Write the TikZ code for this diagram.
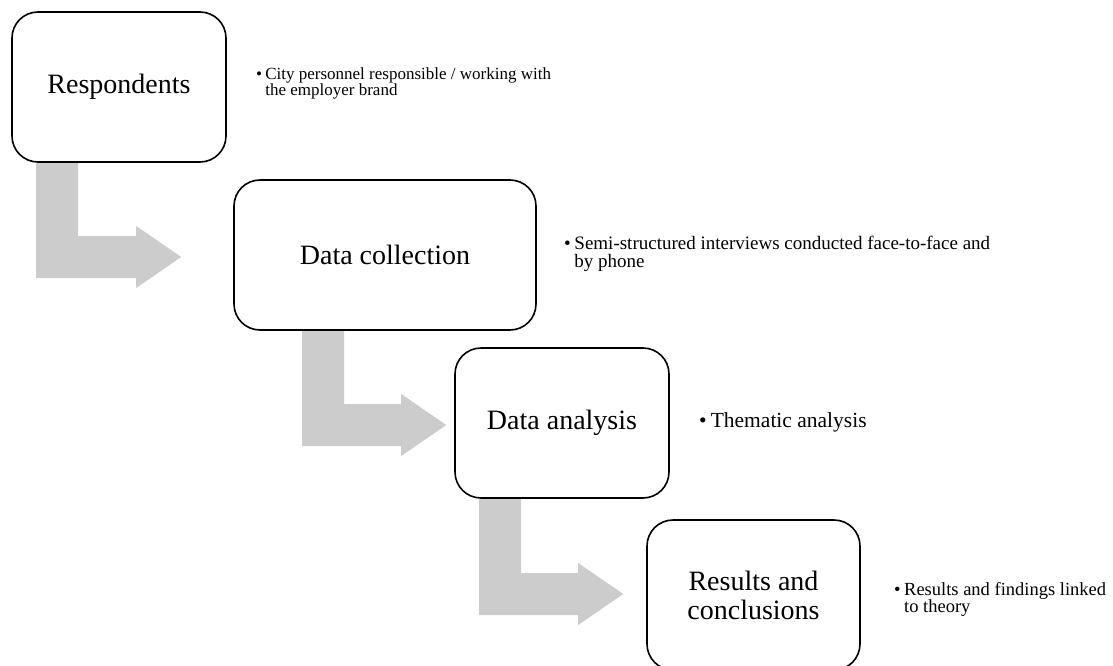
\documentclass[tikz,border=0pt]{standalone}
\usepackage{fontspec}
\setmainfont{Liberation Serif}
\usepackage{xcolor}
\usetikzlibrary{calc,backgrounds}
\definecolor{bendgray}{RGB}{204,204,204}
\tikzset{
  stage/.style   ={draw,line width=1.6pt,rounded corners=26pt,align=center,
                   minimum height=150pt,inner sep=2pt,font=\fontsize{28}{29}\selectfont},
  note/.style    ={anchor=west,inner sep=0pt},
  bendfill/.style={fill=bendgray,draw=none},
}
\newcommand{\bul}[1]{\begin{tabular}{@{}l@{\hspace{0.2em}}l@{}}\textbullet & #1\end{tabular}}
% L-shaped block arrow: out of the bottom of #1, into the left side of #2
\newcommand{\bendarrow}[5]{%
  \fill[bendfill] let \p1=($(#1.south west)+(#3,0)$), \p2=($(#2.west)+(#4,#5)$) in
    (\x1,\y1) -- (\x1+42pt,\y1) -- (\x1+42pt,\y2+21pt) -- (\x2-45pt,\y2+21pt)
    -- (\x2-45pt,\y2+31pt) -- (\x2,\y2) -- (\x2-45pt,\y2-31pt)
    -- (\x2-45pt,\y2-21pt) -- (\x1,\y2-21pt) -- cycle;}

\begin{document}
\begin{tikzpicture}[x=1pt,y=-1pt]
  \useasboundingbox (0,0) rectangle (1113,666);
  \clip (0,0) rectangle (1113,666);
  \node[stage,minimum width=214pt] (resp) at (119,87) {Respondents};
  \node[stage,minimum width=302pt] (coll) at (385,255) {Data collection};
  \node[stage,minimum width=214pt] (anal) at (562,423) {Data analysis};
  \node[stage,minimum width=213pt] (res) at (753.5,595) {Results and\\conclusions};
  \node[note,font=\fontsize{17}{14}\selectfont] (resp-n) at ($(resp.east)+(29,-3)$)
       {\bul{City personnel responsible / working with\\ & the employer brand}};
  \node[note,font=\fontsize{19}{16}\selectfont] (coll-n) at ($(coll.east)+(27,-1)$)
       {\bul{Semi-structured interviews conducted face-to-face and\\ & by phone}};
  \node[note,font=\fontsize{21.5}{20}\selectfont] (anal-n) at ($(anal.east)+(29,0)$)
       {\bul{Thematic analysis}};
  \node[note,font=\fontsize{18.5}{16}\selectfont] (res-n) at ($(res.east)+(33,5)$)
       {\bul{Results and findings linked\\ & to theory}};
  \begin{scope}[on background layer]
    \bendarrow{resp}{coll}{25}{-52}{2}
    \bendarrow{coll}{anal}{69}{-8}{2}
    \bendarrow{anal}{res}{25}{-23}{-1}
  \end{scope}
\end{tikzpicture}
\end{document}
